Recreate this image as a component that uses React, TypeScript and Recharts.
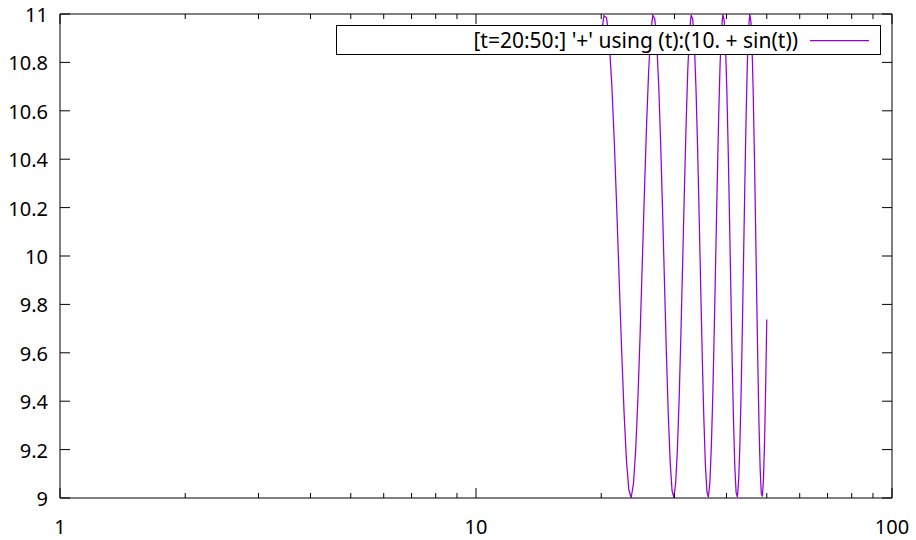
import { LineChart, Line, XAxis, YAxis } from 'recharts'

// t samples and 10 + sin(t)
const tValues = [
  20.0, 20.3, 20.6, 20.9, 21.2, 21.5, 21.8, 22.1, 22.4, 22.7,
  23.0, 23.3, 23.6, 23.9, 24.2, 24.5, 24.8, 25.1, 25.4, 25.7,
  26.0, 26.3, 26.6, 26.9, 27.2, 27.5, 27.8, 28.1, 28.4, 28.7,
  29.0, 29.3, 29.6, 29.9, 30.2, 30.5, 30.8, 31.1, 31.4, 31.7,
  32.0, 32.3, 32.6, 32.9, 33.2, 33.5, 33.8, 34.1, 34.4, 34.7,
  35.0, 35.3, 35.6, 35.9, 36.2, 36.5, 36.8, 37.1, 37.4, 37.7,
  38.0, 38.3, 38.6, 38.9, 39.2, 39.5, 39.8, 40.1, 40.4, 40.7,
  41.0, 41.3, 41.6, 41.9, 42.2, 42.5, 42.8, 43.1, 43.4, 43.7,
  44.0, 44.3, 44.6, 44.9, 45.2, 45.5, 45.8, 46.1, 46.4, 46.7,
  47.0, 47.3, 47.6, 47.9, 48.2, 48.5, 48.8, 49.1, 49.4, 49.7,
  50.0,
]
const yValues = [
  10.913, 10.993, 10.984, 10.887, 10.711, 10.472, 10.19, 9.891, 9.603, 9.349,
  9.154, 9.034, 9.001, 9.057, 9.197, 9.409, 9.673, 9.967, 10.264, 10.537,
  10.762, 10.92, 10.995, 10.981, 10.879, 10.699, 10.457, 10.174, 9.875, 9.587,
  9.336, 9.145, 9.03, 9.002, 9.062, 9.207, 9.422, 9.689, 9.984, 10.28,
  10.551, 10.773, 10.926, 10.996, 10.977, 10.871, 10.687, 10.442, 10.157, 9.858,
  9.572, 9.324, 9.136, 9.026, 9.003, 9.068, 9.217, 9.436, 9.705, 10.001,
  10.296, 10.565, 10.784, 10.932, 10.998, 10.974, 10.863, 10.675, 10.427, 10.14,
  9.842, 9.557, 9.312, 9.128, 9.022, 9.004, 9.075, 9.228, 9.45, 9.721,
  10.018, 10.312, 10.579, 10.794, 10.938, 10.999, 10.97, 10.854, 10.663, 10.411,
  10.124, 9.825, 9.542, 9.3, 9.12, 9.019, 9.006, 9.081, 9.238, 9.464,
  9.738,
]

const xTicks = [1, 2, 3, 4, 5, 6, 7, 8, 9, 10, 20, 30, 40, 50, 60, 70, 80, 90, 100]
const xLabels = [1, 10, 100]
const yTicks = [9, 9.2, 9.4, 9.6, 9.8, 10, 10.2, 10.4, 10.6, 10.8, 11]
const seriesName = "[t=20:50:] '+' using (t):(10. + sin(t))"

const data = tValues.map((t, i) => ({ t, y: yValues[i] }))

const FONT = '"Noto Sans", sans-serif'
const PURPLE = '#9400d3'

function XTick(props: any) {
  const { x, y, payload, top } = props
  const major = xLabels.includes(payload.value)
  const len = major ? 10 : 5
  const dir = top ? 1 : -1
  return (
    <g>
      <line x1={x} x2={x} y1={y} y2={y + dir * len} stroke="#000" strokeWidth={1} />
      {!top && major && (
        <text x={x} y={y + 36} textAnchor="middle" fontSize={20} fontFamily={FONT} fill="#000">
          {payload.value}
        </text>
      )}
    </g>
  )
}

function YTick(props: any) {
  const { x, y, payload, right } = props
  const dir = right ? -1 : 1
  return (
    <g>
      <line x1={x} x2={x + dir * 10} y1={y} y2={y} stroke="#000" strokeWidth={1} />
      {!right && (
        <text x={x - 12} y={y + 8} textAnchor="end" fontSize={20} fontFamily={FONT} fill="#000">
          {Number(payload.value.toFixed(1)).toString()}
        </text>
      )}
    </g>
  )
}

export default function App() {
  return (
    <div style={{ position: 'absolute', left: 0, top: 0, width: 916, height: 540, background: '#fff' }}>
      <LineChart width={916} height={540} data={data} margin={{ top: 0, right: 0, bottom: 0, left: 0 }}>
        <XAxis
          xAxisId="bottom"
          dataKey="t"
          type="number"
          scale="log"
          domain={[1, 100]}
          ticks={xTicks}
          interval={0}
          height={42}
          tickSize={0}
          tickMargin={0}
          stroke="#000"
          tick={<XTick />}
          allowDataOverflow
        />
        <XAxis
          xAxisId="top"
          orientation="top"
          dataKey="t"
          type="number"
          scale="log"
          domain={[1, 100]}
          ticks={xTicks}
          interval={0}
          height={14}
          tickSize={0}
          tickMargin={0}
          stroke="#000"
          tick={<XTick top />}
          allowDataOverflow
        />
        <YAxis
          yAxisId="left"
          type="number"
          domain={[9, 11]}
          ticks={yTicks}
          interval={0}
          width={60}
          tickSize={0}
          tickMargin={0}
          stroke="#000"
          tick={<YTick />}
          allowDataOverflow
        />
        <YAxis
          yAxisId="right"
          orientation="right"
          type="number"
          domain={[9, 11]}
          ticks={yTicks}
          interval={0}
          width={24}
          tickSize={0}
          tickMargin={0}
          stroke="#000"
          tick={<YTick right />}
          allowDataOverflow
        />
        <Line
          xAxisId="bottom"
          yAxisId="left"
          type="linear"
          dataKey="y"
          name={seriesName}
          stroke={PURPLE}
          strokeWidth={1.25}
          dot={false}
          isAnimationActive={false}
        />
      </LineChart>
      <svg style={{ position: 'absolute', left: 0, top: 0 }} width={916} height={60}>
        <rect x={336.5} y={25.5} width={544} height={29} fill="#fff" stroke="#000" strokeWidth={1} />
        <text x={798} y={48} textAnchor="end" fontSize={21} fontFamily={FONT} fill="#000" style={{ whiteSpace: 'pre' }}>
          {seriesName}
        </text>
        <line x1={810} x2={869} y1={40.5} y2={40.5} stroke={PURPLE} strokeWidth={1.25} />
      </svg>
    </div>
  )
}
